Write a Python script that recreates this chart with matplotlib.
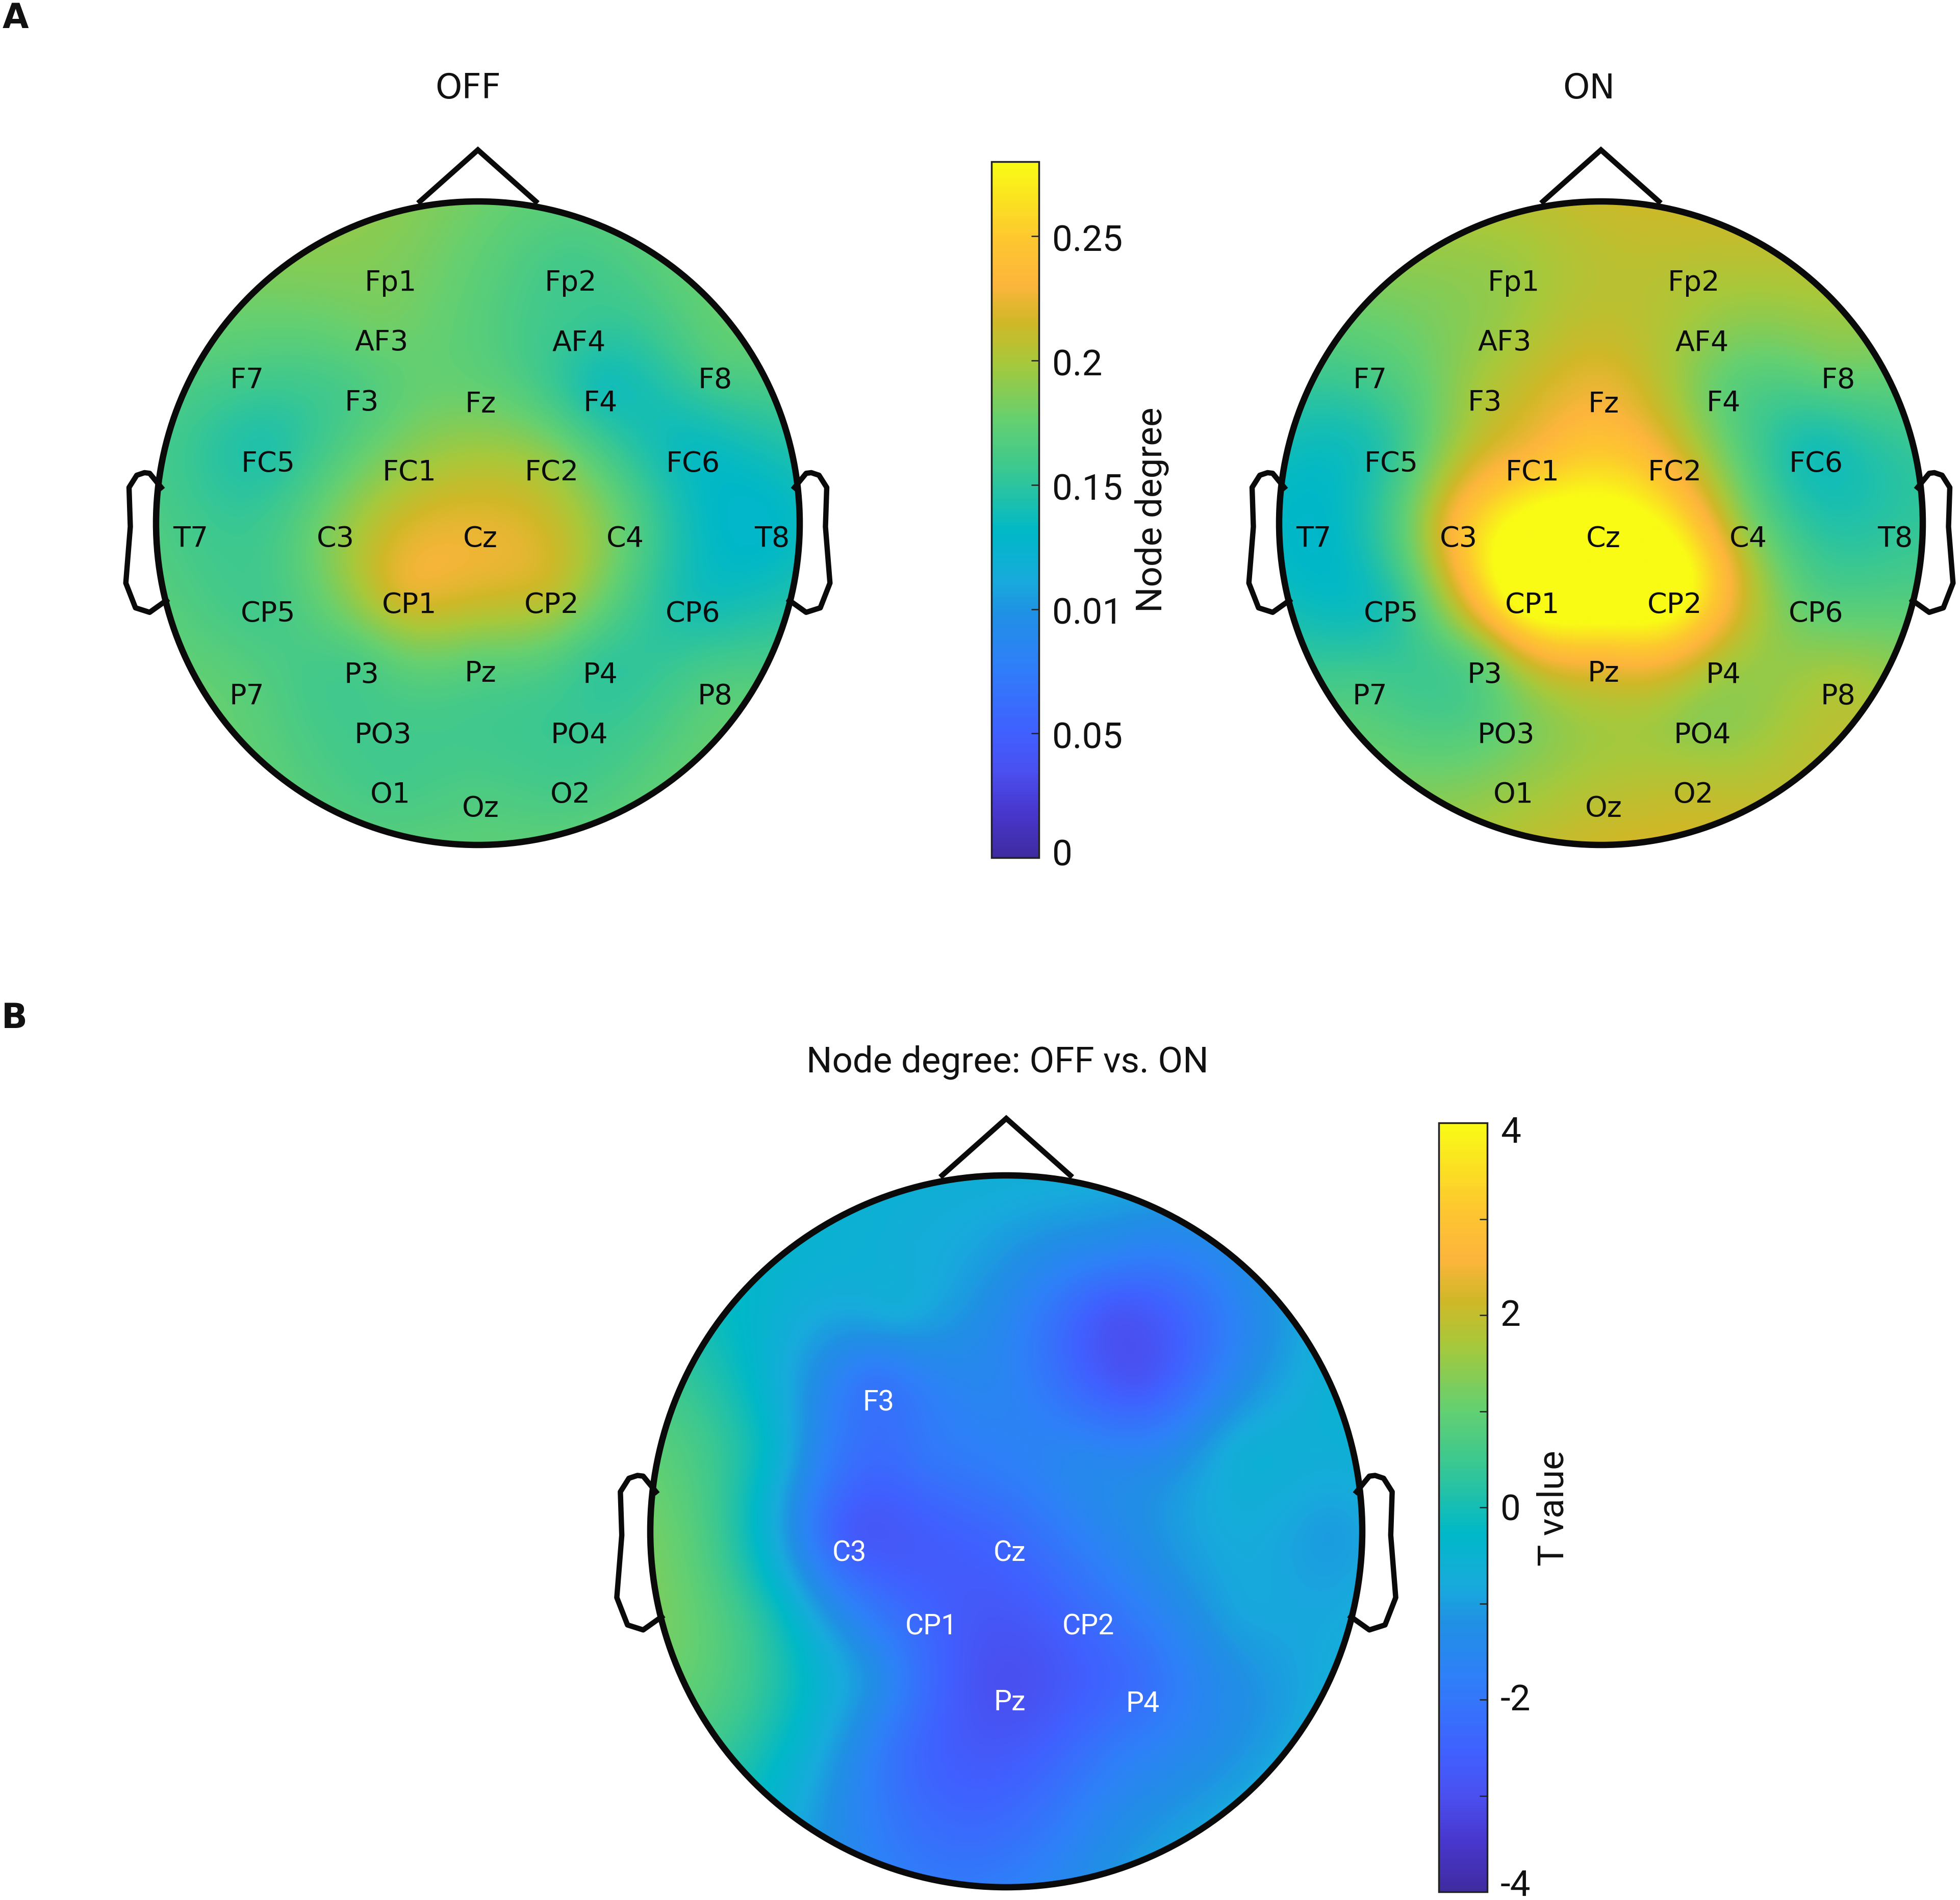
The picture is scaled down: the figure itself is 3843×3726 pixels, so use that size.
# EEG topographies, node degree OFF / ON and T values
import numpy as np
import matplotlib
matplotlib.use('Agg')
import matplotlib.pyplot as plt
from matplotlib.colors import LinearSegmentedColormap
from matplotlib.patches import Circle

W, H = 3843, 3726

names = ['Fp1', 'Fp2', 'AF3', 'AF4', 'F7', 'F3', 'Fz', 'F4', 'F8', 'FC5', 'FC1', 'FC2', 'FC6',
         'T7', 'C3', 'Cz', 'C4', 'T8', 'CP5', 'CP1', 'CP2', 'CP6', 'P7', 'P3', 'Pz', 'P4', 'P8',
         'PO3', 'PO4', 'O1', 'Oz', 'O2']
# electrode positions, head radius = 1
ele_x = [-0.28, 0.28, -0.307, 0.307, -0.726, -0.369, 0.0, 0.373, 0.729, -0.660, -0.221, 0.221, 0.660,
         -0.901, -0.450, 0.0, 0.450, 0.906, -0.660, -0.221, 0.221, 0.660, -0.726, -0.369, 0.0, 0.373, 0.729,
         -0.303, 0.307, -0.280, 0.0, 0.280]
ele_y = [0.796, 0.796, 0.610, 0.610, 0.493, 0.423, 0.419, 0.423, 0.493, 0.233, 0.206, 0.206, 0.233,
         0.0, 0.0, 0.0, 0.0, 0.0, -0.233, -0.206, -0.206, -0.233, -0.490, -0.423, -0.419, -0.423, -0.490,
         -0.610, -0.610, -0.796, -0.838, -0.796]

off_vals = [0.185, 0.160, 0.180, 0.155, 0.165, 0.165, 0.175, 0.140, 0.165, 0.145, 0.190, 0.190, 0.135,
            0.160, 0.185, 0.222, 0.175, 0.130, 0.160, 0.222, 0.210, 0.140, 0.170, 0.165, 0.175, 0.155, 0.165,
            0.160, 0.155, 0.160, 0.165, 0.160]
on_vals = [0.195, 0.205, 0.195, 0.195, 0.165, 0.200, 0.225, 0.175, 0.180, 0.150, 0.235, 0.225, 0.140,
           0.130, 0.235, 0.300, 0.190, 0.150, 0.145, 0.310, 0.300, 0.170, 0.160, 0.180, 0.235, 0.205, 0.200,
           0.175, 0.190, 0.190, 0.205, 0.205]
t_vals = [-0.7, -1.5, -0.8, -2.8, -0.3, -2.0, -1.6, -2.8, -1.2, -0.4, -2.0, -1.5, -0.7,
          0.9, -2.6, -2.3, -1.1, -1.0, 0.0, -2.5, -2.2, -0.9, 0.4, -1.3, -3.0, -2.2, -1.1,
          -2.1, -1.9, -2.1, -2.2, -1.5]
sig_names = ['F3', 'C3', 'Cz', 'CP1', 'CP2', 'Pz', 'P4']

# head outline
nose_x = [-0.18, 0.0, 0.18]
nose_y = [1.0, 1.16, 1.0]
ear_x = [0.984, 1.02, 1.036, 1.06, 1.084, 1.08, 1.094, 1.064, 1.02, 0.968]
ear_y = [0.111, 0.155, 0.157, 0.149, 0.111, -0.011, -0.186, -0.263, -0.277, -0.240]

cmap_pos = [0, 0.068, 0.125, 0.18, 0.28, 0.35, 0.397, 0.467, 0.56, 0.63, 0.713, 0.77, 0.825, 0.892, 1]
cmap_col = ['#3f2ba0', '#4838d0', '#4a50f0', '#4060ff', '#2e80f8', '#2090e4', '#18aadc', '#00b8c8',
            '#3cc890', '#65d070', '#a8c83a', '#d0b828', '#fdb53c', '#fdc82f', '#f9fb15']
parula = LinearSegmentedColormap.from_list('parula_like', list(zip(cmap_pos, cmap_col)))


def surface(values, n=800):
    # biharmonic spline through the electrodes, as griddata v4 does
    px, py = np.array(ele_x), np.array(ele_y)
    d = np.hypot(px[:, None] - px[None, :], py[:, None] - py[None, :])
    g = np.zeros_like(d)
    g[d > 0] = d[d > 0] ** 2 * (np.log(d[d > 0]) - 1)
    w = np.linalg.solve(g, np.array(values))
    xs = np.linspace(-1, 1, n)
    gx, gy = np.meshgrid(xs, xs)
    dd = np.hypot(gx[..., None] - px, gy[..., None] - py)
    dd[dd == 0] = 1e-9
    return (dd ** 2 * (np.log(dd) - 1)).dot(w)


def head(cx, cy, r, values, vmin, vmax, lab_dx, lab_dy, show, color, font, size):
    ax = fig.add_axes([(cx - 1.2 * r) / W, 1 - (cy + 1.25 * r) / H, 2.4 * r / W, 2.5 * r / H])
    ax.set_xlim(-1.2, 1.2)
    ax.set_ylim(-1.25, 1.25)
    ax.axis('off')
    im = ax.imshow(surface(values), extent=(-1, 1, -1, 1), origin='lower', cmap=parula,
                   vmin=vmin, vmax=vmax, interpolation='bilinear', aspect='auto')
    im.set_clip_path(Circle((0, 0), 1, transform=ax.transData))
    ax.add_patch(Circle((0, 0), 1, fill=False, ec='#0a0a0a', lw=9, zorder=3))
    ax.plot(nose_x, nose_y, color='#0a0a0a', lw=7.5, solid_joinstyle='miter', zorder=2)
    ax.plot(ear_x, ear_y, color='#0a0a0a', lw=7.5, zorder=2)
    ax.plot(-np.array(ear_x), ear_y, color='#0a0a0a', lw=7.5, zorder=2)
    for nm, x, y in zip(names, ele_x, ele_y):
        if nm in show:
            ax.text(x + lab_dx / r, y - lab_dy / r, nm, ha='center', va='center', color=color,
                    family=font, fontsize=size, zorder=4)
    return im


def cbar(im, left, right, top, bottom, ticks, labels, minor, shifts):
    cax = fig.add_axes([left / W, 1 - bottom / H, (right - left) / W, (bottom - top) / H])
    cb = fig.colorbar(im, cax=cax)
    cb.set_ticks(ticks)
    cb.set_ticklabels([''] * len(ticks))
    if minor:
        cb.set_ticks(minor, minor=True)
    cax.tick_params(which='both', direction='in', right=True, length=11, width=1.8, color='#222222', pad=0)
    cb.outline.set_linewidth(2.5)
    cb.outline.set_edgecolor('#222222')
    for v, s, dy in zip(ticks, labels, shifts):
        cax.annotate(s, xy=(1, v), xycoords=cax.get_yaxis_transform(), xytext=(26, dy),
                     textcoords='offset pixels', va='center', ha='left', family='Roboto',
                     fontsize=51, color='#111111')
    return cax


def text_px(x, y, s, **kw):
    fig.text(x / W, 1 - y / H, s, ha='center', va='center', color='#111111', **kw)


fig = plt.figure(figsize=(W / 100, H / 100), dpi=100, facecolor='white')

all_names = names
im1 = head(937, 1026, 631, off_vals, 0, 0.28, 5, 31, all_names, '#0c0c0c', 'DejaVu Sans', 40)
im2 = head(3139, 1026, 631, on_vals, 0, 0.28, 5, 31, all_names, '#0c0c0c', 'DejaVu Sans', 40)
im3 = head(1973, 3003, 698, t_vals, -4, 4, 7, 43, sig_names, 'white', 'Roboto', 40)

cbar(im1, 1944, 2037, 317, 1682, [0, 0.05, 0.1, 0.15, 0.2, 0.25],
     ['0', '0.05', '0.01', '0.15', '0.2', '0.25'], None, [4, -10, -10, -10, -10, -10])
cbar(im3, 2821, 2916, 2202, 3710, [-4, -2, 0, 2, 4], ['-4', '-2', '0', '2', '4'],
     [-3, -1, 1, 3], [12, -2, -6, -2, -20])

text_px(918, 174, 'OFF', family='DejaVu Sans', fontsize=48)
text_px(3115, 174, 'ON', family='DejaVu Sans', fontsize=48)
text_px(1975, 2083, 'Node degree: OFF vs. ON', family='Roboto', fontsize=51)
text_px(2258, 1000, 'Node degree', family='Roboto', fontsize=51, rotation=90)
text_px(3046, 2958, 'T value', family='Roboto', fontsize=51, rotation=90)
text_px(30, 36, 'A', family='DejaVu Sans', fontweight='bold', fontsize=48)
text_px(28, 1997, 'B', family='DejaVu Sans', fontweight='bold', fontsize=48)

fig.savefig('out.png', dpi=100)
